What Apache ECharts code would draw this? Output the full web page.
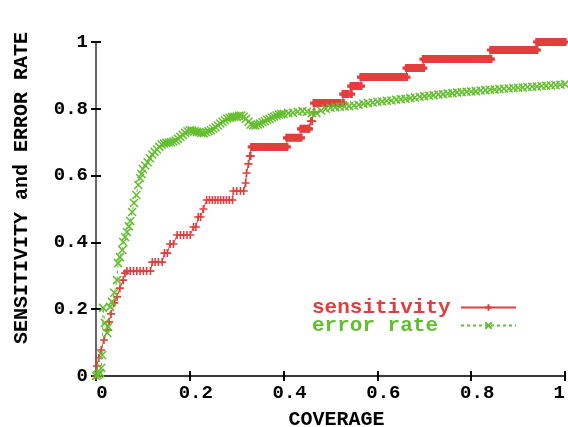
<!DOCTYPE html>
<html>
<head>
<meta charset="utf-8">
<script src="https://cdn.jsdelivr.net/npm/echarts@6/dist/echarts.min.js"></script>
<style>
html,body{margin:0;padding:0;background:#fff;}
#chart{width:568px;height:427px;}
</style>
</head>
<body>
<div id="chart"></div>
<script>
// ---- data ----
const xTicks = [0, 0.2, 0.4, 0.6, 0.8, 1];
const yTicks = [0, 0.2, 0.4, 0.6, 0.8, 1];
const seriesNames = ['sensitivity', 'error rate'];

const sensitivity = [
  [0,0],[0.002,0.03],[0.006,0.054],[0.011,0.078],[0.017,0.108],[0.024,0.138],[0.028,0.162],[0.032,0.186],
  [0.039,0.219],[0.045,0.237],[0.051,0.263],[0.058,0.287],[0.062,0.308],[0.066,0.314],[0.073,0.314],
  [0.080,0.314],[0.087,0.314],[0.094,0.314],[0.101,0.314],[0.108,0.314],[0.116,0.314],[0.120,0.341],
  [0.126,0.341],[0.133,0.341],[0.141,0.341],[0.146,0.368],[0.152,0.368],[0.158,0.395],[0.165,0.395],
  [0.173,0.422],[0.180,0.422],[0.187,0.422],[0.194,0.422],[0.201,0.422],[0.208,0.446],[0.213,0.446],
  [0.218,0.476],[0.223,0.476],[0.229,0.500],[0.236,0.527],[0.242,0.527],[0.248,0.527],[0.254,0.527],
  [0.260,0.527],[0.266,0.527],[0.272,0.527],[0.278,0.527],[0.284,0.527],[0.291,0.527],[0.293,0.554],
  [0.300,0.554],[0.308,0.554],[0.315,0.554],[0.319,0.578],[0.321,0.608],[0.325,0.635],[0.328,0.659],
  [0.330,0.659],
  [0.332,0.686],[0.337,0.686],[0.342,0.686],[0.347,0.686],[0.352,0.686],[0.357,0.686],[0.362,0.686],
  [0.367,0.686],[0.372,0.686],[0.377,0.686],[0.382,0.686],[0.387,0.686],[0.392,0.686],[0.397,0.686],
  [0.402,0.686],[0.407,0.686],
  [0.407,0.713],[0.412,0.713],[0.417,0.713],[0.422,0.713],[0.427,0.713],[0.432,0.713],[0.437,0.713],
  [0.437,0.740],[0.442,0.740],[0.447,0.740],[0.452,0.740],[0.454,0.740],
  [0.458,0.763],[0.461,0.763],[0.465,0.790],
  [0.465,0.817],[0.470,0.817],[0.475,0.817],[0.480,0.817],[0.485,0.817],[0.490,0.817],[0.495,0.817],
  [0.500,0.817],[0.505,0.817],[0.510,0.817],[0.515,0.817],[0.520,0.817],[0.527,0.817],
  [0.527,0.844],[0.532,0.844],[0.537,0.844],[0.544,0.844],
  [0.544,0.868],[0.549,0.868],[0.554,0.868],[0.559,0.868],[0.565,0.868],
  [0.565,0.895],[0.570,0.895],[0.575,0.895],[0.580,0.895],[0.585,0.895],[0.590,0.895],[0.595,0.895],
  [0.600,0.895],[0.605,0.895],[0.610,0.895],[0.615,0.895],[0.620,0.895],[0.625,0.895],[0.630,0.895],
  [0.635,0.895],[0.640,0.895],[0.645,0.895],[0.650,0.895],[0.655,0.895],[0.662,0.895],
  [0.662,0.922],[0.667,0.922],[0.672,0.922],[0.677,0.922],[0.682,0.922],[0.687,0.922],[0.692,0.922],
  [0.698,0.922],
  [0.698,0.949],[0.703,0.949],[0.708,0.949],[0.713,0.949],[0.718,0.949],[0.723,0.949],[0.728,0.949],
  [0.733,0.949],[0.738,0.949],[0.743,0.949],[0.748,0.949],[0.753,0.949],[0.758,0.949],[0.763,0.949],
  [0.768,0.949],[0.773,0.949],[0.778,0.949],[0.783,0.949],[0.788,0.949],[0.793,0.949],[0.798,0.949],
  [0.803,0.949],[0.808,0.949],[0.813,0.949],[0.818,0.949],[0.823,0.949],[0.828,0.949],[0.833,0.949],
  [0.838,0.949],[0.842,0.949],
  [0.842,0.976],[0.847,0.976],[0.852,0.976],[0.857,0.976],[0.862,0.976],[0.867,0.976],[0.872,0.976],
  [0.877,0.976],[0.882,0.976],[0.887,0.976],[0.892,0.976],[0.897,0.976],[0.902,0.976],[0.907,0.976],
  [0.912,0.976],[0.917,0.976],[0.922,0.976],[0.927,0.976],[0.932,0.976],[0.937,0.976],[0.940,0.976],
  [0.940,1.0],[0.945,1.0],[0.950,1.0],[0.955,1.0],[0.960,1.0],[0.965,1.0],[0.970,1.0],[0.975,1.0],
  [0.980,1.0],[0.985,1.0],[0.990,1.0],[0.995,1.0],[1.0,1.0]
];

const errorRate = [
  [0,0],[0.003,0.003],[0.006,0.006],[0.009,0.009],[0.011,0.024],[0.013,0.063],[0.015,0.204],
  [0.019,0.159],[0.024,0.129],[0.026,0.147],[0.030,0.207],[0.034,0.222],[0.039,0.249],[0.045,0.287],
  [0.047,0.338],[0.051,0.356],[0.056,0.377],[0.058,0.401],[0.062,0.416],[0.066,0.431],[0.070,0.448],
  [0.073,0.464],[0.077,0.491],[0.081,0.518],[0.086,0.542],[0.090,0.572],[0.094,0.593],[0.097,0.605],
  [0.10,0.620],[0.105,0.630],[0.11,0.640],[0.115,0.652],[0.12,0.663],[0.125,0.671],[0.13,0.678],
  [0.135,0.686],[0.14,0.693],[0.145,0.696],[0.15,0.698],[0.155,0.699],[0.16,0.700],[0.165,0.702],
  [0.17,0.705],[0.175,0.710],[0.18,0.716],[0.185,0.722],[0.19,0.728],[0.195,0.733],[0.20,0.736],
  [0.205,0.735],[0.21,0.733],[0.215,0.731],[0.22,0.730],[0.225,0.728],[0.23,0.727],[0.235,0.730],
  [0.24,0.733],[0.245,0.736],[0.25,0.740],[0.255,0.745],[0.26,0.750],[0.265,0.756],[0.27,0.761],
  [0.275,0.766],[0.28,0.771],[0.285,0.773],[0.29,0.775],[0.295,0.776],[0.30,0.777],[0.305,0.779],
  [0.31,0.780],[0.315,0.776],[0.32,0.770],[0.325,0.761],[0.33,0.753],[0.335,0.751],[0.34,0.750],
  [0.345,0.753],[0.35,0.756],[0.355,0.760],[0.36,0.763],[0.365,0.767],[0.37,0.770],[0.375,0.774],
  [0.38,0.777],[0.385,0.780],[0.39,0.783],[0.395,0.784],[0.40,0.785],[0.41,0.787],[0.42,0.788],
  [0.43,0.791],[0.44,0.793],[0.45,0.791],[0.46,0.787],[0.47,0.787],[0.48,0.795],[0.49,0.800],
  [0.50,0.803],[0.51,0.805],[0.52,0.806],[0.53,0.807],[0.54,0.808],[0.55,0.810],[0.56,0.812],
  [0.57,0.815],[0.58,0.817],[0.59,0.819],[0.60,0.821],[0.61,0.822],[0.62,0.824],[0.63,0.825],
  [0.64,0.827],[0.65,0.829],[0.66,0.830],[0.67,0.832],[0.68,0.834],[0.69,0.836],[0.70,0.838],
  [0.71,0.839],[0.72,0.841],[0.73,0.843],[0.74,0.844],[0.75,0.846],[0.76,0.847],[0.77,0.849],
  [0.78,0.850],[0.79,0.851],[0.80,0.852],[0.81,0.853],[0.82,0.855],[0.83,0.856],[0.84,0.857],
  [0.85,0.858],[0.86,0.859],[0.87,0.860],[0.88,0.861],[0.89,0.862],[0.90,0.863],[0.91,0.864],
  [0.92,0.865],[0.93,0.866],[0.94,0.867],[0.95,0.868],[0.96,0.869],[0.97,0.870],[0.98,0.871],
  [0.99,0.872],[1.00,0.874]
];

// ---- styling ----
const RED = '#e33d3d';
const GREEN = '#62be2e';
const FONT = '"Liberation Mono", "DejaVu Sans Mono", monospace';
const plusSym = 'path://M5,0L5,10M0,5L10,5';
const crossSym = 'path://M0,0L10,10M10,0L0,10';

function fmt(v) {
  for (const t of xTicks) if (Math.abs(v - t) < 1e-9) return String(t);
  return '';
}

// markers packed closely along a flat step merge into a bar: draw them heavier
function sensItems(pts) {
  const dense = new Array(pts.length).fill(false);
  let i = 0;
  while (i < pts.length) {
    let j = i;
    while (j + 1 < pts.length && pts[j + 1][1] === pts[i][1]) j++;
    const n = j - i + 1;
    if (n >= 3 && (pts[j][0] - pts[i][0]) / (n - 1) < 0.006) {
      for (let k = i; k <= j; k++) dense[k] = true;
    }
    i = j + 1;
  }
  return pts.map((p, k) => ({value: p, itemStyle: {borderWidth: dense[k] ? 3.2 : 1.6}}));
}

const chart = echarts.init(document.getElementById('chart'), null, {renderer: 'canvas'});
const labelStyle = {fontFamily: FONT, fontWeight: 'bold', fontSize: 19, color: '#000'};
const nameStyle = {fontFamily: FONT, fontWeight: 'bold', fontSize: 20, color: '#000'};
const legendRich = {fontFamily: FONT, fontWeight: 'bold', fontSize: 21, width: 144, align: 'left'};

chart.setOption({
  animation: false,
  backgroundColor: '#fff',
  grid: {left: 96, right: 3, top: 42, bottom: 51, containLabel: false, outerBoundsMode: 'none'},
  xAxis: [
    {
      type: 'value', min: 0, max: 1, interval: 0.2, position: 'bottom',
      name: 'COVERAGE', nameLocation: 'middle', nameGap: 34,
      nameTextStyle: Object.assign({padding: [0, 0, 0, 12]}, nameStyle),
      axisLine: {show: true, lineStyle: {color: '#555', width: 1.5}},
      axisTick: {show: true, inside: true, length: 5, lineStyle: {color: '#000', width: 2}},
      axisLabel: Object.assign({margin: 8, formatter: fmt, padding: [0, 0, 0, 12],
        showMaxLabel: true, alignMaxLabel: 'right', hideOverlap: false}, labelStyle),
      splitLine: {show: false}
    },
    {
      type: 'value', min: 0, max: 1, interval: 0.2, position: 'top',
      axisLine: {show: true, lineStyle: {color: '#222', width: 1.5}},
      axisTick: {show: true, inside: true, length: 5, lineStyle: {color: '#000', width: 2}},
      axisLabel: {show: false}, splitLine: {show: false}
    }
  ],
  yAxis: [
    {
      type: 'value', min: 0, max: 1, interval: 0.2, position: 'left',
      name: 'SENSITIVITY and ERROR RATE', nameLocation: 'middle', nameGap: 64, nameRotate: 90,
      nameTextStyle: Object.assign({padding: [0, 0, 0, 42]}, nameStyle),
      axisLine: {show: true, lineStyle: {color: '#000', width: 1.5}},
      axisTick: {show: true, inside: true, length: 5, lineStyle: {color: '#000', width: 2}},
      axisLabel: Object.assign({margin: 8, formatter: fmt}, labelStyle),
      splitLine: {show: false}
    },
    {
      type: 'value', min: 0, max: 1, interval: 0.2, position: 'right',
      axisLine: {show: true, lineStyle: {color: '#777', width: 1.5}},
      axisTick: {show: true, inside: true, length: 5, lineStyle: {color: '#000', width: 2}},
      axisLabel: {show: false}, splitLine: {show: false}
    }
  ],
  legend: {
    orient: 'vertical', right: 46, top: 292, align: 'right', padding: 5,
    itemWidth: 55, itemHeight: 8, itemGap: -3,
    formatter: (name) => (name === seriesNames[0] ? '{s|' : '{e|') + name + '}',
    textStyle: {
      fontFamily: FONT, fontWeight: 'bold', fontSize: 21,
      rich: {
        s: Object.assign({color: RED}, legendRich),
        e: Object.assign({color: GREEN}, legendRich)
      }
    },
    data: seriesNames
  },
  series: [
    {
      name: seriesNames[0], type: 'line', data: sensItems(sensitivity),
      symbol: plusSym, symbolSize: 8, showAllSymbol: true,
      lineStyle: {color: RED, width: 1},
      itemStyle: {color: 'rgba(0,0,0,0)', borderColor: RED, borderWidth: 1.6},
      z: 2
    },
    {
      name: seriesNames[1], type: 'line', data: errorRate,
      symbol: crossSym, symbolSize: 8, showAllSymbol: true,
      lineStyle: {color: GREEN, width: 1, type: [3, 3]},
      itemStyle: {color: 'rgba(0,0,0,0)', borderColor: GREEN, borderWidth: 1.5},
      z: 3
    }
  ]
});
</script>
</body>
</html>
